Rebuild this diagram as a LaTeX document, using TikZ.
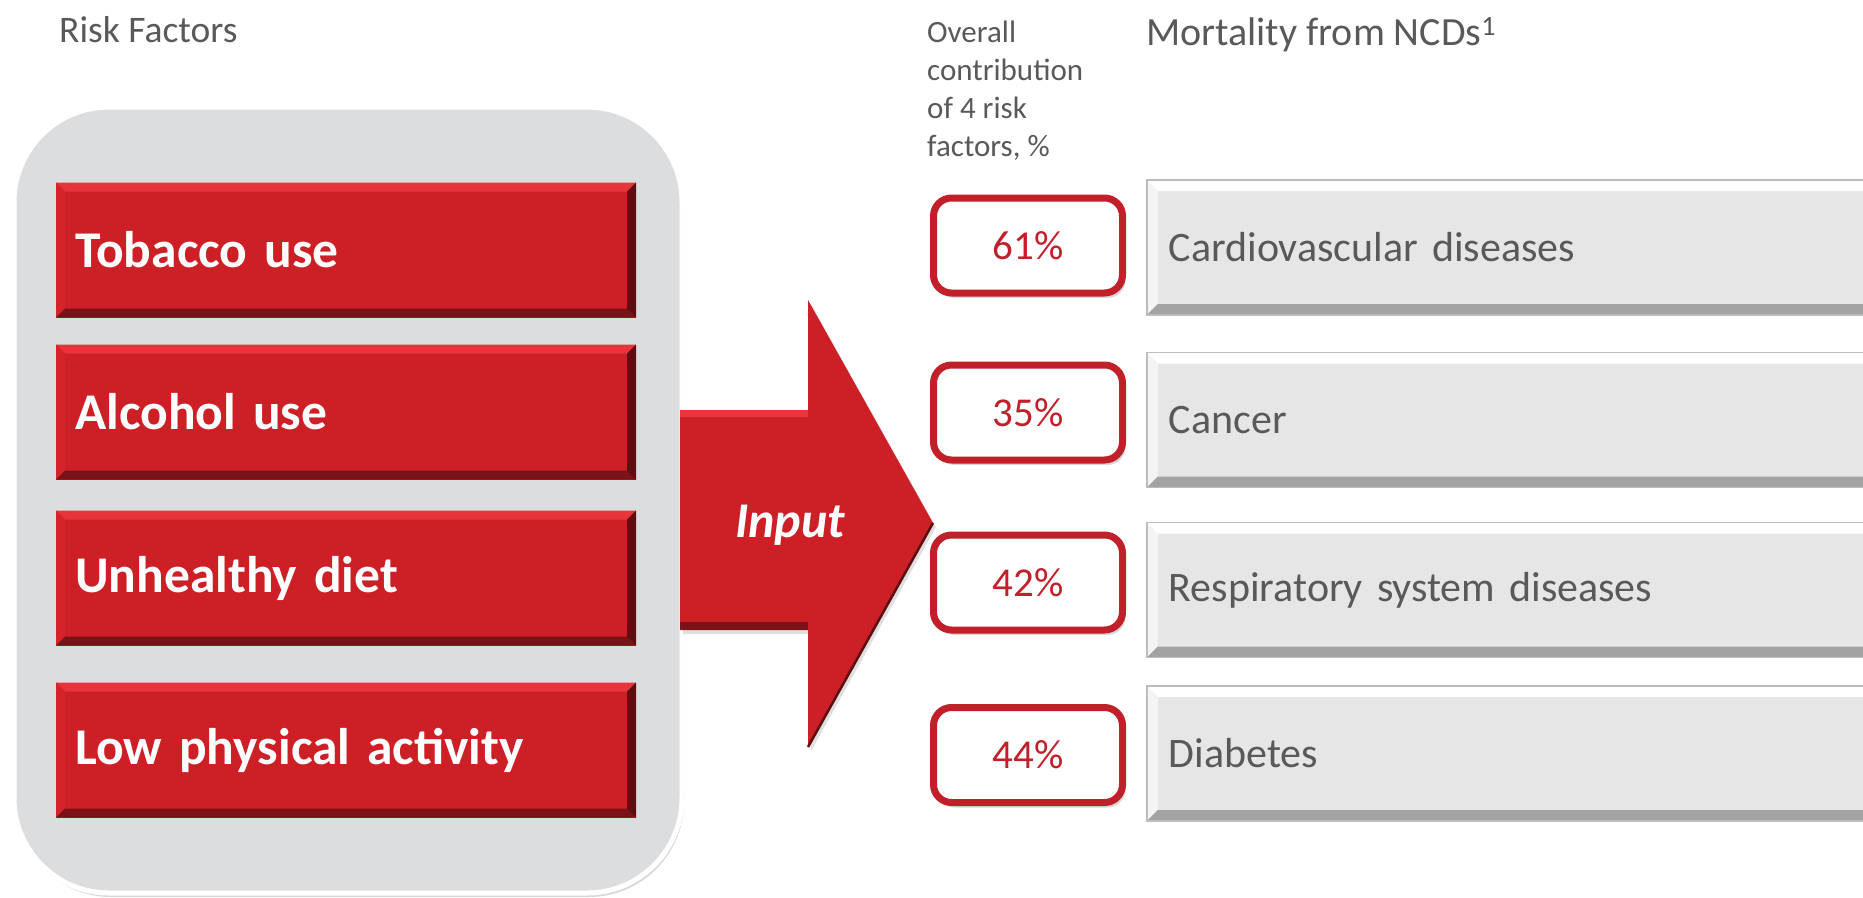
\documentclass[tikz,border=0pt]{standalone}
\usepackage{fontspec}
\setmainfont{Carlito}
\usetikzlibrary{shadows,calc}
\definecolor{rfill}{HTML}{CC1F26}
\definecolor{rtop}{HTML}{E8353B}
\definecolor{rleft}{HTML}{D42329}
\definecolor{rbot}{HTML}{7A1217}
\definecolor{rright}{HTML}{5E0D11}
\definecolor{panelgray}{HTML}{DCDDDF}
\definecolor{barfill}{HTML}{E6E6E6}
\definecolor{barbot}{HTML}{A3A3A3}
\definecolor{barleft}{HTML}{F4F4F4}
\definecolor{barline}{HTML}{BDBDBD}
\definecolor{txtgray}{HTML}{595959}
\definecolor{pctred}{HTML}{C1202A}
\tikzset{
 redbox/.style={fill=rfill, minimum height=135pt, text width=542pt, inner xsep=19pt, inner ysep=0pt,
  align=left, text=white, font=\bfseries\fontsize{51.5}{56}\selectfont, anchor=west,
  path picture={
   \fill[rtop] (path picture bounding box.north west) -- (path picture bounding box.north east) -- ([shift={(-9pt,-9pt)}]path picture bounding box.north east) -- ([shift={(9pt,-9pt)}]path picture bounding box.north west) -- cycle;
   \fill[rleft] (path picture bounding box.north west) -- ([shift={(9pt,-9pt)}]path picture bounding box.north west) -- ([shift={(9pt,9pt)}]path picture bounding box.south west) -- (path picture bounding box.south west) -- cycle;
   \fill[rbot] (path picture bounding box.south west) -- ([shift={(9pt,9pt)}]path picture bounding box.south west) -- ([shift={(-9pt,9pt)}]path picture bounding box.south east) -- (path picture bounding box.south east) -- cycle;
   \fill[rright] (path picture bounding box.north east) -- ([shift={(-9pt,-9pt)}]path picture bounding box.north east) -- ([shift={(-9pt,9pt)}]path picture bounding box.south east) -- (path picture bounding box.south east) -- cycle;
  }},
 barbox/.style={fill=barfill, draw=barline, line width=1.5pt, minimum height=135pt, text width=686pt,
  inner xsep=22pt, inner ysep=0pt, align=left, text=txtgray, font=\fontsize{42}{47}\selectfont, anchor=west,
  path picture={
   \fill[white] (path picture bounding box.north west) -- (path picture bounding box.north east) -- ([shift={(-11pt,-11pt)}]path picture bounding box.north east) -- ([shift={(11pt,-11pt)}]path picture bounding box.north west) -- cycle;
   \fill[barleft] (path picture bounding box.north west) -- ([shift={(11pt,-11pt)}]path picture bounding box.north west) -- ([shift={(11pt,11pt)}]path picture bounding box.south west) -- (path picture bounding box.south west) -- cycle;
   \fill[barbot] (path picture bounding box.south west) -- ([shift={(11pt,11pt)}]path picture bounding box.south west) -- ([shift={(-11pt,11pt)}]path picture bounding box.south east) -- (path picture bounding box.south east) -- cycle;
  }},
 pctbox/.style={fill=white, draw=pctred, line width=7pt, rounded corners=18pt, minimum width=189pt,
  minimum height=95pt, inner sep=0pt, text=pctred, font=\fontsize{41}{46}\selectfont,
  drop shadow={shadow xshift=3pt, shadow yshift=-5pt, opacity=0.3}},
 panel/.style={fill=panelgray, draw=white, line width=5pt, rounded corners=95pt, minimum width=668pt,
  minimum height=786pt, drop shadow={shadow xshift=2pt, shadow yshift=-4pt, opacity=0.3}},
 heading/.style={text=txtgray, font=\fontsize{37.5}{42}\selectfont, inner sep=0pt},
 bighead/.style={text=txtgray, font=\fontsize{40}{45}\selectfont, inner sep=0pt},
 smallhead/.style={text=txtgray, font=\fontsize{31}{38}\selectfont, inner sep=0pt, align=left},
 arrowtext/.style={text=white, font=\bfseries\itshape\fontsize{50}{55}\selectfont, inner sep=0pt}
}
\begin{document}
\begin{tikzpicture}[x=1pt,y=-1pt]
\useasboundingbox (0,0) rectangle (1863,897);
\fill[white] (0,0) rectangle (1863,897);

% headings
\node[heading, anchor=base west] (rfhead) at (59,42) {Risk Factors};
\node[smallhead, anchor=north west] (contrib) at (927,20.5) {Overall\\contribution\\of 4 risk\\factors, \%};
\node[bighead, anchor=base west] (morthead) at (1146,45) {Mortality from NCDs\textsuperscript{1}};

% left panel
\node[panel] (panel) at (348,500) {};
\node[redbox] (tob) at (56,250) {Tobacco use};
\node[redbox] (alc) at (56,412) {Alcohol use};
\node[redbox] (diet) at (56,578) {Unhealthy diet};
\node[redbox] (phys) at (56,750) {Low physical activity};

% arrow
\fill[rfill, drop shadow={shadow xshift=3pt, shadow yshift=-4pt, opacity=0.25}]
  (680,410) -- (808,410) -- (808,300) -- (933,523) -- (808,747) -- (808,630) -- (680,630) -- cycle;
\fill[rtop] (680,410) rectangle (808,417);
\fill[rbot] (680,622) rectangle (808,630);
\draw[rright, line width=2.5pt] (933,523) -- (808,747);
\node[arrowtext] (input) at (790,525) {Input};

% percent boxes
\node[pctbox] (p1) at (1028,245.5) {61\%};
\node[pctbox] (p2) at (1028,412.5) {35\%};
\node[pctbox] (p3) at (1028,582.5) {42\%};
\node[pctbox] (p4) at (1028,755) {44\%};

% disease bars
\node[barbox] (cvd) at (1146,247.5) {Cardiovascular diseases};
\node[barbox] (can) at (1146,420) {Cancer};
\node[barbox] (resp) at (1146,590) {Respiratory system diseases};
\node[barbox] (diab) at (1146,753.5) {Diabetes};
\end{tikzpicture}
\end{document}
